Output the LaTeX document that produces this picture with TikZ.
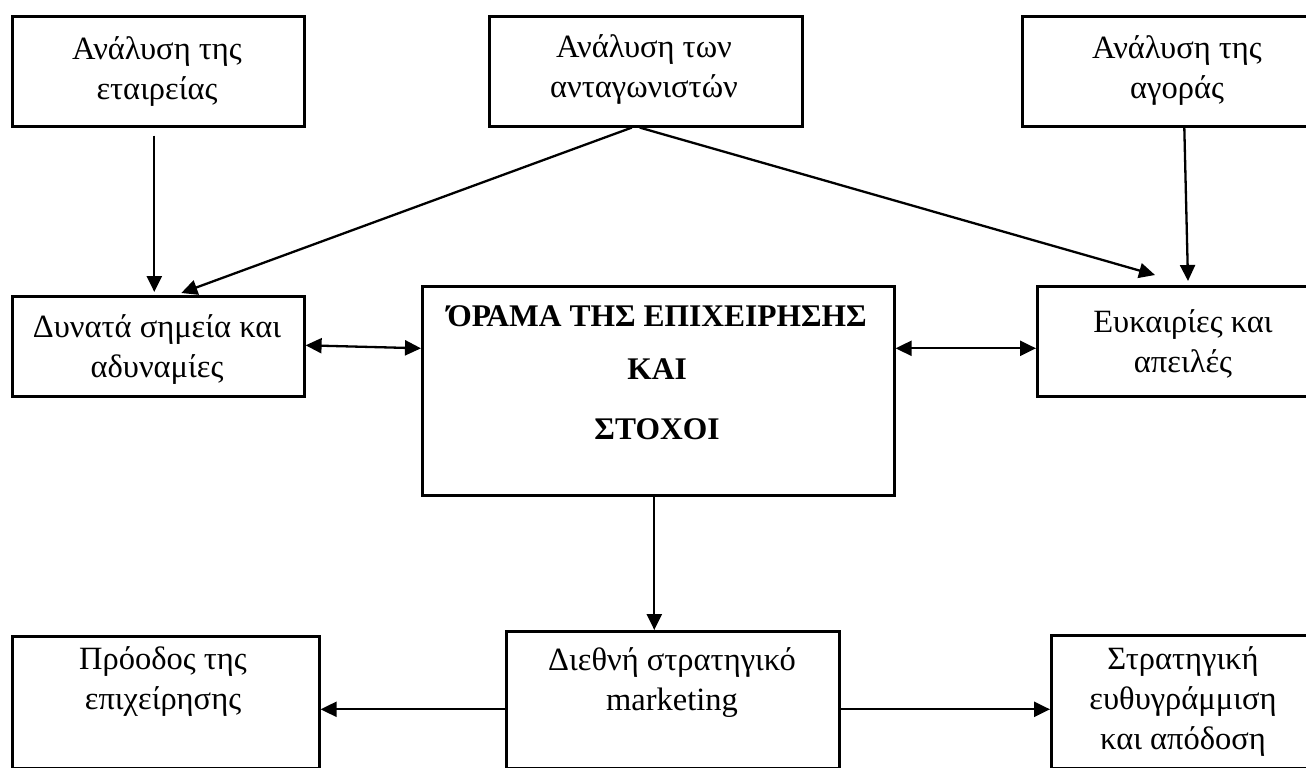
\documentclass[tikz,border=0pt]{standalone}
\usepackage{fontspec}
\setmainfont{Liberation Serif}
\usetikzlibrary{arrows.meta}
\begin{document}
\begin{tikzpicture}[x=1pt,y=-1pt,
  box/.style={draw, line width=2.6pt, inner sep=0pt, anchor=north west},
  txt/.style={align=center, font=\fontsize{32.5}{40}\selectfont, inner sep=0pt},
  boldtxt/.style={font=\fontsize{31.5}{40}\selectfont\bfseries, inner sep=0pt, anchor=base},
  conn/.style={line width=2.3pt, -{Triangle[length=16pt,width=15pt]}},
  dconn/.style={line width=2.3pt, {Triangle[length=16pt,width=15pt]}-{Triangle[length=16pt,width=15pt]}}]
\useasboundingbox (0,0) rectangle (1306,768);
\fill[white] (0,0) rectangle (1306,768);
\clip (0,0) rectangle (1306,768);

% boxes
\node[box, minimum width=292pt, minimum height=110pt] (tl) at (11,15) {};
\node[box, minimum width=313pt, minimum height=110pt] (tm) at (488,15) {};
\node[box, minimum width=320pt, minimum height=110pt] (tr) at (1021,15) {};
\node[box, minimum width=292pt, minimum height=100pt] (ml) at (11,295) {};
\node[box, minimum width=472pt, minimum height=209pt] (c) at (421,285) {};
\node[box, minimum width=320pt, minimum height=110pt] (mr) at (1036,285) {};
\node[box, minimum width=307pt, minimum height=132pt] (bl) at (11,635) {};
\node[box, minimum width=333pt, minimum height=137pt] (bm) at (505,630) {};
\node[box, minimum width=300pt, minimum height=133pt] (br) at (1050,634) {};

% texts
\node[txt] (tlT) at (157,72) {Ανάλυση της\\εταιρείας};
\node[txt] (tmT) at (644,70) {Ανάλυση των\\ανταγωνιστών};
\node[txt] (trT) at (1177,71) {Ανάλυση της\\αγοράς};
\node[txt] (mlT) at (157,350) {Δυνατά σημεία και\\αδυναμίες};
\node[txt] (mrT) at (1183,344) {Ευκαιρίες και\\απειλές};
\node[boldtxt] (c1) at (657,326) {ΌΡΑΜΑ ΤΗΣ ΕΠΙΧΕΙΡΗΣΗΣ};
\node[boldtxt] (c2) at (657,379) {ΚΑΙ};
\node[boldtxt] (c3) at (657,439) {ΣΤΟΧΟΙ};
\node[txt] (blT) at (163,681) {Πρόοδος της\\επιχείρησης};
\node[txt] (bmT) at (672,683) {Διεθνή στρατηγικό\\marketing};
\node[txt] (brT) at (1183,701) {Στρατηγική\\ευθυγράμμιση\\και απόδοση};

% connectors
\draw[conn] ([xshift=-4pt,yshift=-8pt]tl.south) -- ([xshift=-4pt,yshift=3pt]ml.north);
\draw[conn] ([xshift=-14pt]tm.south) -- ([xshift=23pt,yshift=2pt]ml.north);
\draw[conn] ([xshift=-6pt]tm.south) -- ([xshift=119pt,yshift=10pt]mr.north west);
\draw[conn] ([xshift=2pt]tr.south) -- ([xshift=152pt,yshift=4pt]mr.north west);
\draw[dconn] ([yshift=1pt]ml.east) -- ([yshift=42.5pt]c.west);
\draw[dconn] ([yshift=42.5pt]c.east) -- ([yshift=-7pt]mr.west);
\draw[conn] ([xshift=-4pt]c.south) -- ([xshift=-4pt]c.south |- bm.north);
\draw[conn] ([yshift=-9.5pt]bm.west) -- ([yshift=-9.5pt]bm.west -| bl.east);
\draw[conn] ([yshift=-9.5pt]bm.east) -- ([yshift=-9.5pt]bm.east -| br.west);
\end{tikzpicture}
\end{document}
